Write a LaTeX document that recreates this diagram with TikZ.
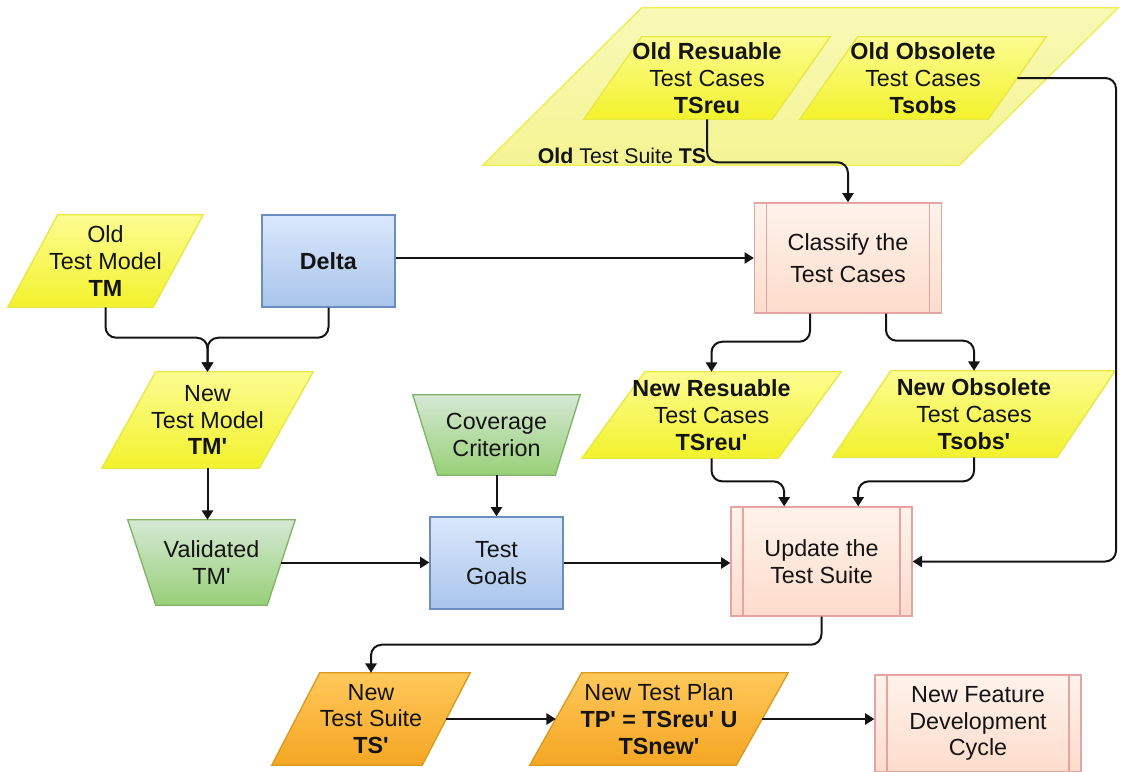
\documentclass[tikz,border=0pt]{standalone}
\usepackage{fontspec}
\setmainfont{Liberation Sans}
\usetikzlibrary{arrows.meta,calc}
\pgfdeclarelayer{background}
\pgfsetlayers{background,main}

% straight apostrophe used in the primed names
\newcommand{\apo}{\textquotesingle}
% one unit of the drawing grid
\newcommand{\pxu}{0.75pt}

% slanted outline behind a node: #1 style, #2 node, #3 half of the slant
\newcommand{\slantfill}[3]{%
  \begin{pgfonlayer}{background}
    \path[#1] ($(#2.north west)+(#3,0)$) -- ($(#2.north east)+(#3,0)$)
      -- ($(#2.south east)-(#3,0)$) -- ($(#2.south west)-(#3,0)$) -- cycle;
  \end{pgfonlayer}}
% outline wider at the top than at the bottom: #1 style, #2 node, #3 half of the taper
\newcommand{\funnelfill}[3]{%
  \begin{pgfonlayer}{background}
    \path[#1] ($(#2.north west)-(#3,0)$) -- ($(#2.north east)+(#3,0)$)
      -- ($(#2.south east)-(#3,0)$) -- ($(#2.south west)+(#3,0)$) -- cycle;
  \end{pgfonlayer}}

\definecolor{ylwtop}{HTML}{FCFC92}
\definecolor{ylwbot}{HTML}{F2F22C}
\definecolor{ylwline}{HTML}{E8E844}
\definecolor{bigtop}{HTML}{F9F9B6}
\definecolor{bigbot}{HTML}{F4F494}
\definecolor{bigline}{HTML}{EEEE4C}
\definecolor{bluetop}{HTML}{DAE8FC}
\definecolor{bluebot}{HTML}{A9C4EB}
\definecolor{blueline}{HTML}{6C8EBF}
\definecolor{greentop}{HTML}{D5E8D4}
\definecolor{greenbot}{HTML}{97D077}
\definecolor{greenline}{HTML}{82B366}
\definecolor{pinktop}{HTML}{FFF3EC}
\definecolor{pinkbot}{HTML}{FCDCCB}
\definecolor{pinkline}{HTML}{E6A3A3}
\definecolor{orgtop}{HTML}{FFC85A}
\definecolor{orgbot}{HTML}{F5A623}
\definecolor{orgline}{HTML}{D99A1E}
\definecolor{ink}{HTML}{141414}

\tikzset{
  txt/.style={font=\fontsize{17.5}{20}\selectfont, align=center, text=ink, inner sep=0pt},
  holder/.style={txt, rectangle},
  ylwfill/.style={line width=1pt, draw=ylwline, top color=ylwtop, bottom color=ylwbot},
  bigfill/.style={line width=1pt, draw=bigline, top color=bigtop, bottom color=bigbot},
  orgfill/.style={line width=1pt, draw=orgline, top color=orgtop, bottom color=orgbot},
  greenfill/.style={line width=1pt, draw=greenline, top color=greentop, bottom color=greenbot},
  bluebox/.style={txt, rectangle, line width=1pt, draw=blueline,
    top color=bluetop, bottom color=bluebot},
  procbox/.style={txt, rectangle, line width=1pt, draw=pinkline,
    top color=pinktop, bottom color=pinkbot,
    path picture={
      \draw[pinkline, line width=1pt]
        ([xshift=9pt]path picture bounding box.north west) --
        ([xshift=9pt]path picture bounding box.south west);
      \draw[pinkline, line width=1pt]
        ([xshift=-9pt]path picture bounding box.north east) --
        ([xshift=-9pt]path picture bounding box.south east);
    }},
  arr/.style={draw=ink, line width=1.5pt, rounded corners=8pt,
    -{Triangle[length=7pt,width=8.5pt]}},
}

\begin{document}
\begin{tikzpicture}[x=0.75pt, y=-0.75pt]
  \useasboundingbox (0,0) rectangle (1131,771);
  \begin{pgfonlayer}{background}
    \fill[white] (0,0) rectangle (1131,771);
  \end{pgfonlayer}

  % ---- old test suite with its two groups of test cases
  \node[holder, minimum width=476*\pxu, minimum height=157*\pxu] (oldsuite) at (800.5,86.5) {};
  \slantfill{bigfill}{oldsuite}{79.5}
  \node[txt, font=\fontsize{16}{18}\selectfont] (oldsuite-t) at (622,156)
        {\textbf{Old} Test Suite \textbf{TS}};

  \node[holder, minimum width=188*\pxu, minimum height=82*\pxu] (oldres) at (707,78)
        {\textbf{Old Resuable}\\Test Cases\\\textbf{TSreu}};
  \slantfill{ylwfill}{oldres}{29}

  \node[holder, minimum width=188*\pxu, minimum height=82*\pxu] (oldobs) at (923,78)
        {\textbf{Old Obsolete}\\Test Cases\\\textbf{Tsobs}};
  \slantfill{ylwfill}{oldobs}{29}

  % ---- test model and delta
  \node[holder, minimum width=145*\pxu, minimum height=92*\pxu] (oldtm) at (105.5,261)
        {Old\\Test Model\\\textbf{TM}};
  \slantfill{ylwfill}{oldtm}{25}

  \node[bluebox, minimum width=133*\pxu, minimum height=92*\pxu] (delta) at (328.5,261)
        {\textbf{Delta}};

  \node[holder, minimum width=157*\pxu, minimum height=96*\pxu] (newtm) at (207.5,420)
        {New\\Test Model\\\textbf{TM\apo}};
  \slantfill{ylwfill}{newtm}{27}

  \node[holder, minimum width=139*\pxu, minimum height=85*\pxu] (valid) at (211.5,562.5)
        {Validated\\TM\apo};
  \funnelfill{greenfill}{valid}{14}

  \node[holder, minimum width=142*\pxu, minimum height=80*\pxu] (cover) at (496.5,435)
        {Coverage\\Criterion};
  \funnelfill{greenfill}{cover}{12.5}

  \node[bluebox, minimum width=133*\pxu, minimum height=92*\pxu] (goals) at (496.5,563)
        {Test\\Goals};

  % ---- classification and update
  \node[procbox, font=\fontsize{17.5}{24}\selectfont,
        minimum width=187*\pxu, minimum height=110*\pxu] (classify) at (848,258)
        {Classify the\\Test Cases};

  \node[holder, minimum width=196*\pxu, minimum height=86*\pxu] (newres) at (711.5,415)
        {\textbf{New Resuable}\\Test Cases\\\textbf{TSreu\apo}};
  \slantfill{ylwfill}{newres}{31.5}

  \node[holder, minimum width=224*\pxu, minimum height=86*\pxu] (newobs) at (974,414)
        {\textbf{New Obsolete}\\Test Cases\\\textbf{Tsobs\apo}};
  \slantfill{ylwfill}{newobs}{29}

  \node[procbox, minimum width=181*\pxu, minimum height=109*\pxu] (update) at (821.5,561.5)
        {Update the\\Test Suite};

  % ---- results
  \node[holder, minimum width=150*\pxu, minimum height=92*\pxu] (newts) at (371,719)
        {New\\Test Suite\\\textbf{TS\apo}};
  \slantfill{orgfill}{newts}{24}

  \node[holder, minimum width=206*\pxu, minimum height=92*\pxu] (plan) at (659,719)
        {New Test Plan\\\textbf{TP\apo{} = TSreu\apo{} U}\\\textbf{TSnew\apo}};
  \slantfill{orgfill}{plan}{26}

  \node[procbox, minimum width=206*\pxu, minimum height=97*\pxu] (feature) at (978,723.5)
        {New Feature\\Development\\Cycle};

  % ---- connectors
  \coordinate (rail) at (1116,0);

  \draw[arr] (oldres.south) -- ++(0,43) -| (classify.north);
  \draw[arr] (oldobs.east) -- (oldobs.east -| rail) -- (update.east -| rail) -- (update.east);
  \draw[arr] (delta.east |- classify.west) -- (classify.west);

  \draw[arr] (oldtm.south) |- ($(newtm.north)+(0,-34)$) -- (newtm.north);
  \draw[arr] (delta.south) |- ($(newtm.north)+(0,-34)$) -- (newtm.north);

  \draw[arr] (newtm.south) -- (newtm.south |- valid.north);
  \draw[arr] (cover.south) -- (goals.north);
  \draw[arr] (valid.east) -- (goals.west |- valid.east);
  \draw[arr] (goals.east) -- (update.west |- goals.east);

  \draw[arr] ([xshift=-28.5pt]classify.south) |- ($(newres.north)+(0,-30)$) -- (newres.north);
  \draw[arr] ([xshift=28.5pt]classify.south) |- ($(newobs.north)+(0,-30)$) -- (newobs.north);

  \draw[arr] (newres.south) |- ($([xshift=-28pt]update.north)+(0,-25)$) -- ([xshift=-28pt]update.north);
  \draw[arr] (newobs.south) |- ($([xshift=27.5pt]update.north)+(0,-25)$) -- ([xshift=27.5pt]update.north);

  \draw[arr] (update.south) |- ($(newts.north)+(0,-28)$) -- (newts.north);
  \draw[arr] (newts.east) -- (plan.west |- newts.east);
  \draw[arr] (plan.east) -- (feature.west |- plan.east);
\end{tikzpicture}
\end{document}
